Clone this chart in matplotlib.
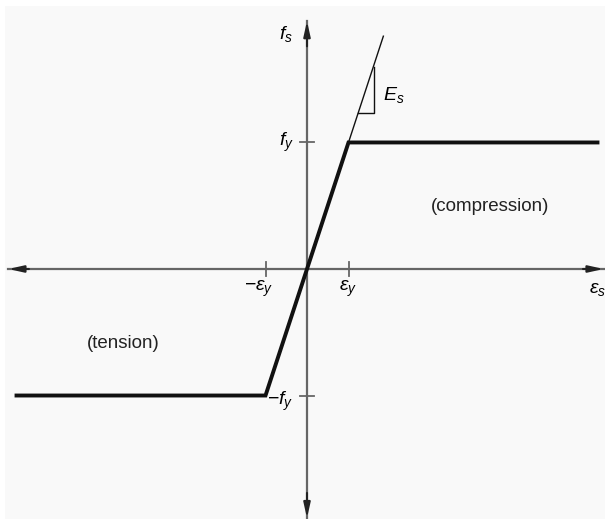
import numpy as np
import matplotlib
matplotlib.use('Agg')
import matplotlib.pyplot as plt
from matplotlib.patches import Rectangle

plt.rcParams['font.family'] = ['Liberation Sans', 'DejaVu Sans']
plt.rcParams['mathtext.fontset'] = 'custom'
plt.rcParams['mathtext.it'] = 'Liberation Sans:italic'
plt.rcParams['mathtext.rm'] = 'Liberation Sans'

# %% data (strain in units of eps_y, stress in units of f_y)

eps_y = 1.0
f_y = 1.0
curve_strain = [-7.0, -1.0, 1.0, 7.0]
curve_stress = [-1.0, -1.0, 1.0, 1.0]
ext_strain = [1.0, 1.84]
ext_stress = [1.0, 1.84]
tri_strain = [1.23, 1.61, 1.61]
tri_stress = [1.23, 1.23, 1.60]
x_axis = [-7.2, 7.15]
y_axis = [-1.97, 1.96]

# %% figure

fig = plt.figure(figsize=(6.05, 5.19), dpi=100, facecolor='white')
fig.add_artist(Rectangle((5 / 605, 0), 1, 513 / 519, transform=fig.transFigure,
                         facecolor='#f9f9f9', edgecolor='none', zorder=0))
ax = fig.add_axes([0, 0, 1, 1])
ax.set_facecolor('none')
ax.set_xlim(-7.398, 7.181)
ax.set_ylim(-1.976, 2.126)
ax.axis('off')

axis_col = '#666666'
arrow = dict(arrowstyle='-|>,head_length=0.9,head_width=0.2', color='#222222',
             lw=1.5, shrinkA=0, shrinkB=0)
ax.plot(x_axis, [0, 0], color=axis_col, lw=1.6)
ax.plot([0, 0], y_axis, color=axis_col, lw=1.6)
for tip, start in [((x_axis[1], 0), (x_axis[1] - 0.5, 0)), ((x_axis[0], 0), (x_axis[0] + 0.5, 0)),
                   ((0, y_axis[1]), (0, y_axis[1] - 0.2)), ((0, y_axis[0]), (0, y_axis[0] + 0.2))]:
    ax.annotate('', xy=tip, xytext=start, arrowprops=arrow)

# ticks
tk_h = 0.055
tk_w = 0.18
for e in [-eps_y, eps_y]:
    ax.plot([e, e], [-tk_h, tk_h], color=axis_col, lw=1.3)
for f in [-f_y, f_y]:
    ax.plot([-tk_w, tk_w], [f, f], color=axis_col, lw=1.3)

# curve
ax.plot(ext_strain, ext_stress, color='#111111', lw=1.0)
ax.plot(tri_strain, tri_stress, color='#111111', lw=1.0)
ax.plot(curve_strain, curve_stress, color='#111111', lw=2.8, solid_joinstyle='miter')

# labels
fs = 14
ax.text(-0.51, 1.86, r'$f_s$', fontsize=fs, ha='center', va='center')
ax.text(-0.31, 1.0, r'$f_y$', fontsize=fs, ha='right', va='center')
ax.text(1.83, 1.375, r'$E_s$', fontsize=fs, ha='left', va='center')
ax.text(-1.16, -0.16, r'$-\varepsilon_y$', fontsize=fs, ha='center', va='center')
ax.text(1.0, -0.16, r'$\varepsilon_y$', fontsize=fs, ha='center', va='center')
ax.text(6.99, -0.16, r'$\varepsilon_s$', fontsize=fs, ha='center', va='center')
ax.text(-0.65, -1.05, r'$-f_y$', fontsize=fs, ha='center', va='center')
ax.text(4.41, 0.49, '(compression)', fontsize=13.5, ha='center', va='center', color='#222222')
ax.text(-4.43, -0.585, '(tension)', fontsize=13.5, ha='center', va='center', color='#222222')

plt.savefig('out.png', dpi=100, facecolor=fig.get_facecolor())
